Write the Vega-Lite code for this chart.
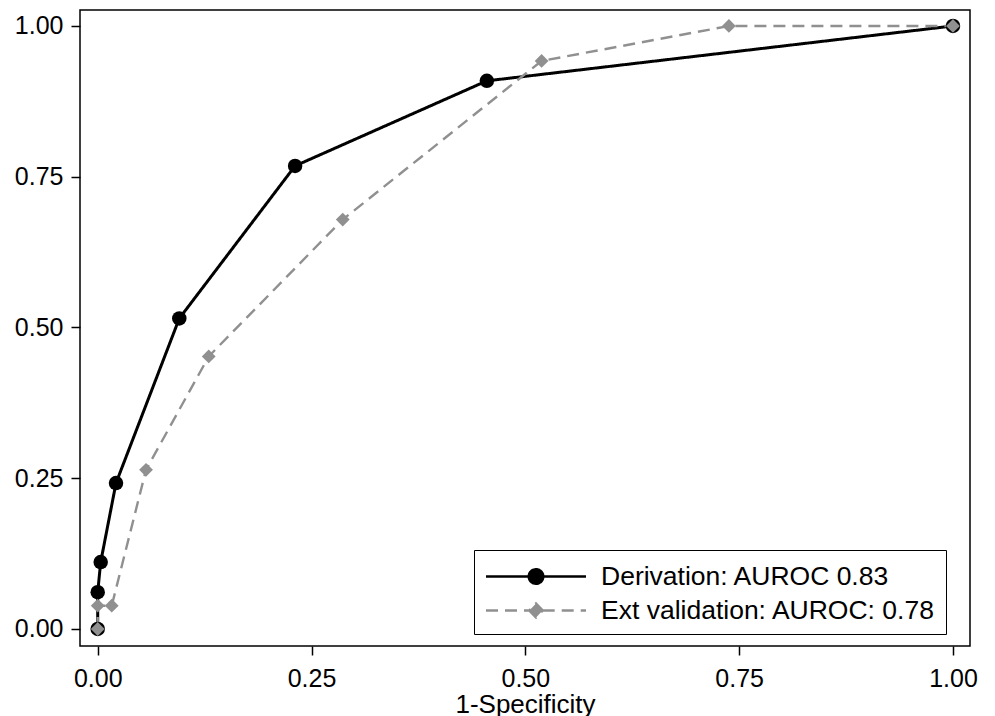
{
  "$schema": "https://vega.github.io/schema/vega-lite/v6.json",
  "width": 890,
  "height": 636,
  "autosize": {"type": "none"},
  "padding": {"left": 80, "top": 10, "right": 25, "bottom": 70},
  "background": "white",
  "config": {
    "view": {"stroke": "#000000", "strokeWidth": 1.5},
    "font": "Liberation Sans",
    "axis": {
      "domain": false,
      "grid": false,
      "ticks": true,
      "tickColor": "#000000",
      "tickSize": 9,
      "tickWidth": 1.5,
      "labelFont": "Liberation Sans",
      "labelFontSize": 25,
      "labelColor": "#000000",
      "titleFont": "Liberation Sans",
      "titleFontSize": 26,
      "titleFontWeight": "normal",
      "titleColor": "#000000"
    }
  },
  "data": {
    "values": [
      {"series": "Derivation: AUROC 0.83", "step": 1, "fpr": 0, "tpr": 0},
      {"series": "Derivation: AUROC 0.83", "step": 2, "fpr": 0, "tpr": 0.061},
      {"series": "Derivation: AUROC 0.83", "step": 3, "fpr": 0.0035, "tpr": 0.111},
      {"series": "Derivation: AUROC 0.83", "step": 4, "fpr": 0.0214, "tpr": 0.242},
      {"series": "Derivation: AUROC 0.83", "step": 5, "fpr": 0.0954, "tpr": 0.515},
      {"series": "Derivation: AUROC 0.83", "step": 6, "fpr": 0.2308, "tpr": 0.768},
      {"series": "Derivation: AUROC 0.83", "step": 7, "fpr": 0.455, "tpr": 0.909},
      {"series": "Derivation: AUROC 0.83", "step": 8, "fpr": 1, "tpr": 1},
      {"series": "Ext validation: AUROC: 0.78", "step": 1, "fpr": 0, "tpr": 0},
      {"series": "Ext validation: AUROC: 0.78", "step": 2, "fpr": 0, "tpr": 0.0386},
      {"series": "Ext validation: AUROC: 0.78", "step": 3, "fpr": 0.0164, "tpr": 0.0386},
      {"series": "Ext validation: AUROC: 0.78", "step": 4, "fpr": 0.0565, "tpr": 0.264},
      {"series": "Ext validation: AUROC: 0.78", "step": 5, "fpr": 0.1298, "tpr": 0.452},
      {"series": "Ext validation: AUROC: 0.78", "step": 6, "fpr": 0.2865, "tpr": 0.679},
      {"series": "Ext validation: AUROC: 0.78", "step": 7, "fpr": 0.519, "tpr": 0.942},
      {"series": "Ext validation: AUROC: 0.78", "step": 8, "fpr": 0.738, "tpr": 1},
      {"series": "Ext validation: AUROC: 0.78", "step": 9, "fpr": 1, "tpr": 1}
    ]
  },
  "encoding": {
    "x": {
      "field": "fpr",
      "type": "quantitative",
      "scale": {"domain": [-0.0207, 1.0199], "nice": false, "zero": false},
      "axis": {"values": [0, 0.25, 0.5, 0.75, 1], "format": ".2f", "title": "1-Specificity", "labelPadding": 11, "titlePadding": 0}
    },
    "y": {
      "field": "tpr",
      "type": "quantitative",
      "scale": {"domain": [-0.0282, 1.0265], "nice": false, "zero": false},
      "axis": {"values": [0, 0.25, 0.5, 0.75, 1], "format": ".2f", "title": null, "labelPadding": 8}
    },
    "color": {
      "field": "series",
      "type": "nominal",
      "scale": {"domain": ["Derivation: AUROC 0.83", "Ext validation: AUROC: 0.78"], "range": ["#000000", "#909090"]},
      "legend": {
        "title": null,
        "orient": "none",
        "legendX": 394,
        "legendY": 540,
        "padding": 10,
        "rowPadding": 4,
        "strokeColor": "#000000",
        "fillColor": "#ffffff",
        "labelFont": "Liberation Sans",
        "labelFontSize": 26.5,
        "labelColor": "#000000",
        "labelLimit": 600,
        "labelOffset": 84,
        "symbolSize": 924,
        "symbolStrokeWidth": 2.6,
        "encode": {
          "symbols": {
            "update": {
              "shape": {"signal": "datum.value === 'Derivation: AUROC 0.83' ? 'M-0.954,0H5.625M1.862,0A0.474,0.474,0,1,0,2.81,0A0.474,0.474,0,1,0,1.862,0Z' : 'M-0.954,0H1.896M2.776,0H5.625M2.336,-0.46L2.776,0L2.336,0.46L1.896,0Z'"},
              "size": {"value": 924},
              "strokeWidth": {"value": 2.6},
              "strokeDash": {"signal": "datum.value === 'Derivation: AUROC 0.83' ? [1, 0] : [12, 7]"},
              "opacity": {"value": 1}
            }
          }
        }
      }
    }
  },
  "layer": [
    {
      "mark": {"type": "line"},
      "encoding": {
        "order": {"field": "step", "type": "quantitative"},
        "strokeDash": {
          "field": "series",
          "type": "nominal",
          "scale": {"range": [[1, 0], [12, 7]]},
          "legend": null
        },
        "strokeWidth": {
          "field": "series",
          "type": "nominal",
          "scale": {"range": [3, 2.4]},
          "legend": null
        }
      }
    },
    {
      "mark": {"type": "point", "filled": true, "opacity": 1},
      "encoding": {
        "shape": {
          "field": "series",
          "type": "nominal",
          "scale": {"range": ["circle", "diamond"]},
          "legend": null
        },
        "size": {
          "field": "series",
          "type": "nominal",
          "scale": {"range": [210, 190]},
          "legend": null
        }
      }
    }
  ]
}
